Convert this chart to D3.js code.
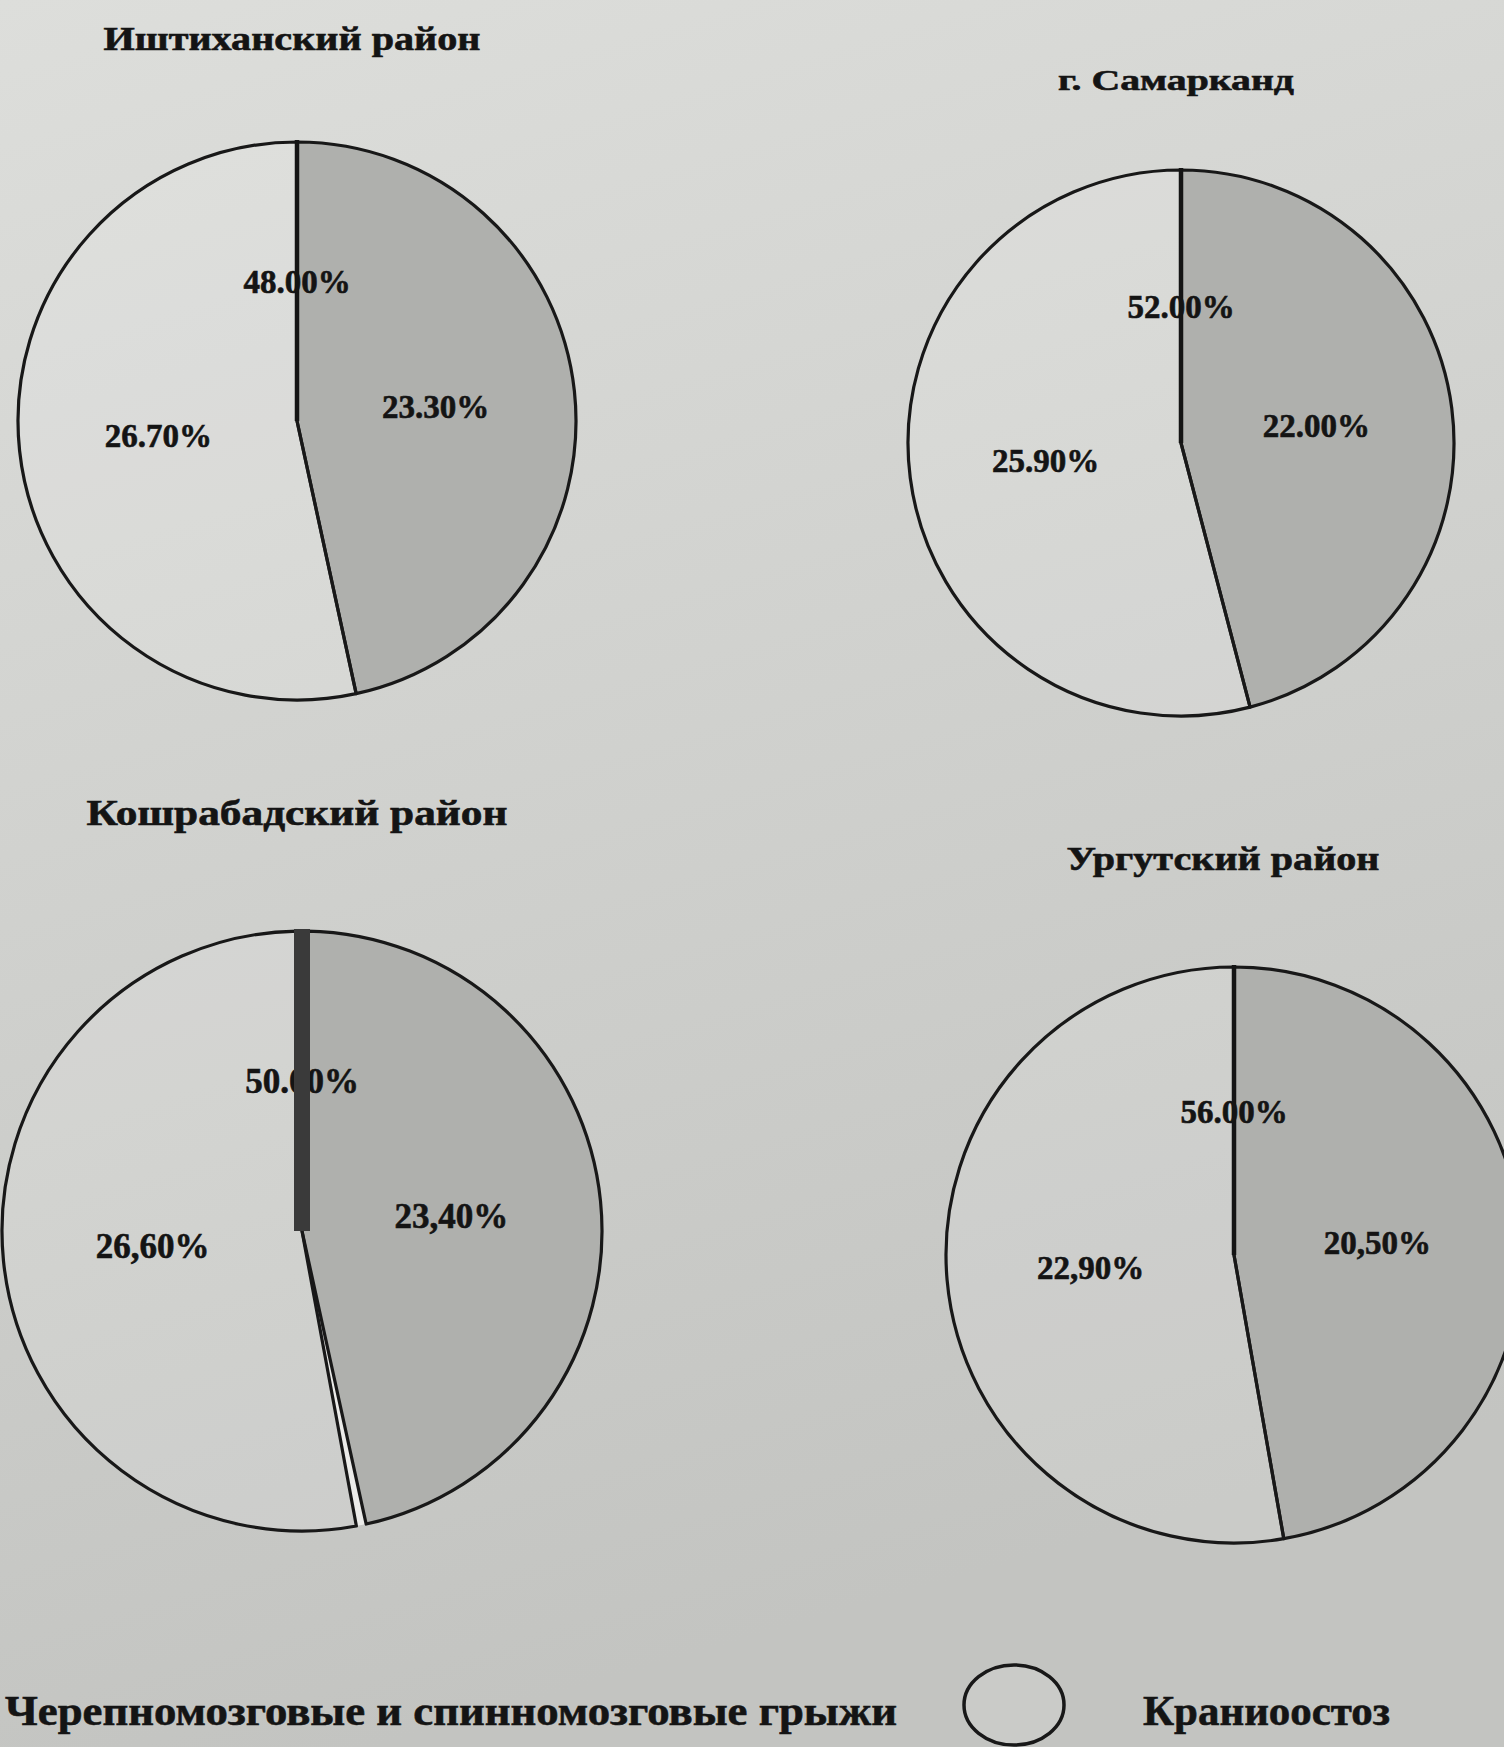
<!DOCTYPE html>
<html>
<head>
<meta charset="utf-8">
<script src="https://cdn.jsdelivr.net/npm/d3@7"></script>
<style>
  html, body { margin: 0; padding: 0; background: #d4d5d2; }
  svg { display: block; }
  text { font-family: "Liberation Serif", "Times New Roman", "DejaVu Serif", serif; font-weight: bold; fill: #141414; stroke: #141414; stroke-width: 0.6px; }
</style>
</head>
<body>
<svg id="chart" width="1504" height="1747"></svg>
<script>
// ---- data ----
const districts = ["Иштиханский район", "г. Самарканд", "Кошрабадский район", "Ургутский район"];
const categories = ["Черепномозговые и спинномозговые грыжи", "Краниоостоз"];
const herniaValues = [23.30, 22.00, 23.40, 20.50];        // grey slice
const craniostosisValues = [26.70, 25.90, 26.60, 22.90];  // light slice
const topValues = [48.00, 52.00, 50.00, 56.00];           // label printed at the top of each pie
const decimalMarks = [".", ".", ",", ","];

// ---- layout (positions / sizes / styles) ----
const layout = [
  {cx: 297,  cy: 421,  r: 279, tx: 292,  ty: 50,  tw: 377, ts: 33, ls: 33, pad: 0,  divW: 4.5, divC: "#141414"},
  {cx: 1181, cy: 443,  r: 273, tx: 1176, ty: 90,  tw: 236, ts: 30, ls: 33, pad: 0,  divW: 4.5, divC: "#141414"},
  {cx: 302,  cy: 1231, r: 300, tx: 297,  ty: 825, tw: 421, ts: 35, ls: 35, pad: 10, divW: 16,  divC: "#3a3a3a"},
  {cx: 1234, cy: 1255, r: 288, tx: 1223, ty: 870, tw: 313, ts: 34, ls: 33, pad: 0,  divW: 4.5, divC: "#141414"}
];
const colors = ["#afb0ad", "#ffffff"];
const opac = [1, 0.12];

const svg = d3.select("#chart");
const W = 1504, H = 1747;

// paper background
const defs = svg.append("defs");
const grad = defs.append("linearGradient").attr("id", "paper")
  .attr("x1", 0).attr("y1", 0).attr("x2", 0.25).attr("y2", 1);
grad.append("stop").attr("offset", "0%").attr("stop-color", "#dddedb");
grad.append("stop").attr("offset", "100%").attr("stop-color", "#c3c4c1");
svg.append("rect").attr("width", W).attr("height", H).attr("fill", "url(#paper)");

const fmt = d3.format(".2f");

districts.forEach((name, i) => {
  const L = layout[i];
  const g = svg.append("g").attr("transform", `translate(${L.cx},${L.cy})`);
  const vals = [herniaValues[i], craniostosisValues[i]];
  const pa = L.pad / L.r;
  const pie = d3.pie().sort(null).startAngle(0).endAngle(2 * Math.PI).padAngle(pa);
  const arcs = pie(vals);
  const arc = d3.arc().innerRadius(0).outerRadius(L.r).padRadius(L.r);
  const labelArc = d3.arc().innerRadius(0).outerRadius(L.r); // centroid at r/2

  // light strip showing through the gap between separated slices
  if (pa > 0) {
    const b = arcs[0].endAngle;
    g.append("path")
      .attr("d", d3.arc().innerRadius(0).outerRadius(L.r)({startAngle: b - pa * 0.55, endAngle: b + pa * 0.55}))
      .attr("fill", "#ebebe9");
  }

  g.selectAll("path.slice").data(arcs).join("path")
    .attr("class", "slice")
    .attr("d", arc)
    .attr("fill", (d, k) => colors[k])
    .attr("fill-opacity", (d, k) => opac[k])
    .attr("stroke", "#181818")
    .attr("stroke-width", 3.2)
    .attr("stroke-linejoin", "round");

  // slice labels
  g.selectAll("text.val").data(arcs).join("text")
    .attr("class", "val")
    .attr("transform", d => {
      const m = (d.startAngle + d.endAngle) / 2;
      return `translate(${labelArc.centroid({startAngle: m, endAngle: m})})`;
    })
    .attr("text-anchor", "middle")
    .attr("dy", "0.35em")
    .style("font-size", L.ls + "px")
    .text(d => fmt(d.data).replace(".", decimalMarks[i]) + "%");

  // top label (at start angle)
  const tp = labelArc.centroid({startAngle: 0, endAngle: 0});
  g.append("text")
    .attr("x", tp[0]).attr("y", tp[1])
    .attr("text-anchor", "middle")
    .attr("dy", "0.35em")
    .style("font-size", L.ls + "px")
    .text(fmt(topValues[i]) + "%");

  // divider from top to centre (drawn over labels)
  g.append("line")
    .attr("x1", 0).attr("y1", -L.r - 2)
    .attr("x2", 0).attr("y2", 0)
    .attr("stroke", L.divC)
    .attr("stroke-width", L.divW);

  // title
  svg.append("text")
    .attr("x", L.tx).attr("y", L.ty)
    .attr("text-anchor", "middle")
    .attr("textLength", L.tw)
    .attr("lengthAdjust", "spacingAndGlyphs")
    .style("font-size", L.ts + "px")
    .text(name);
});

// legend
const legend = svg.append("g");
legend.append("text")
  .attr("x", 5).attr("y", 1725)
  .attr("textLength", 892)
  .attr("lengthAdjust", "spacingAndGlyphs")
  .style("font-size", "42px")
  .text(categories[0]);
legend.append("ellipse")
  .attr("cx", 1014).attr("cy", 1705).attr("rx", 50).attr("ry", 40)
  .attr("fill", colors[1]).attr("fill-opacity", opac[1])
  .attr("stroke", "#181818").attr("stroke-width", 3.5);
legend.append("text")
  .attr("x", 1143).attr("y", 1725)
  .attr("textLength", 247)
  .attr("lengthAdjust", "spacingAndGlyphs")
  .style("font-size", "42px")
  .text(categories[1]);
</script>
</body>
</html>
